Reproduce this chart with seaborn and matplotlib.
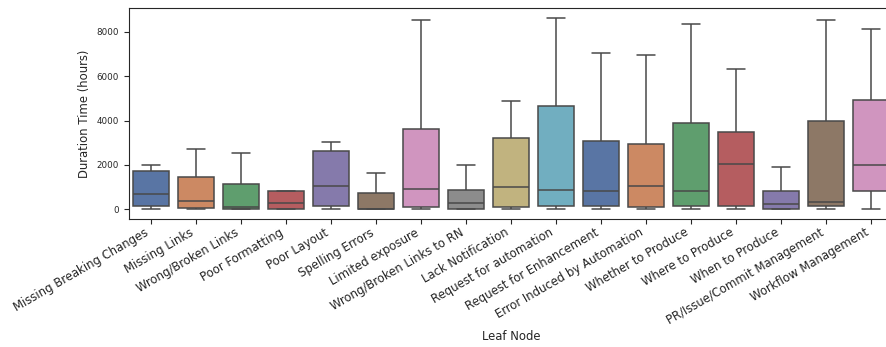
import matplotlib
matplotlib.use("Agg")
import matplotlib.pyplot as plt
import numpy as np
import pandas as pd
import seaborn as sns

# Leaf-node categories and the five-number summary of duration (hours) for each
leaf_nodes = [
    "Missing Breaking Changes", "Missing Links", "Wrong/Broken Links",
    "Poor Formatting", "Poor Layout", "Spelling Errors", "Limited exposure",
    "Wrong/Broken Links to RN", "Lack Notification", "Request for automation",
    "Request for Enhancement", "Error Induced by Automation",
    "Whether to Produce", "Where to Produce", "When to Produce",
    "PR/Issue/Commit Management", "Workflow Management",
]
whisker_low = [0, 0, 0, 0, 0, 0, 0, 0, 0, 0, 0, 0, 0, 0, 0, 0, 0]
q1 = [135, 77, 30, 30, 150, 10, 90, 30, 120, 135, 165, 90, 165, 165, 30, 150, 843]
median = [690, 375, 105, 300, 1050, 25, 900, 285, 1005, 857, 843, 1050, 826, 2030, 225, 330, 2015]
q3 = [1730, 1474, 1128, 842, 2632, 752, 3625, 872, 3204, 4632, 3068, 2948, 3910, 3504, 842, 3971, 4918]
whisker_high = [2015, 2722, 2557, 842, 3053, 1654, 8543, 2015, 4858, 8633, 7024, 6933, 8347, 6332, 1925, 8513, 8107]

# Long-form table: each category holds its summary points so the box statistics reproduce them
rows = []
for name, lo, a, m, b, hi in zip(leaf_nodes, whisker_low, q1, median, q3, whisker_high):
    for v in (lo, a, m, b, hi):
        rows.append({"Leaf Node": name, "Duration Time (hours)": v})
df = pd.DataFrame(rows)

sns.set_theme(style="ticks")
plt.rcParams["font.family"] = ["DejaVu Sans"]

fig = plt.figure(figsize=(8.87, 3.47), dpi=100)
ax = fig.add_axes([128.5 / 887, (347 - 219) / 347, 765 / 887, 211 / 347])

sns.boxplot(
    data=df, x="Leaf Node", y="Duration Time (hours)", hue="Leaf Node",
    order=leaf_nodes, hue_order=leaf_nodes, palette="deep", legend=False,
    showfliers=False, whis=1.5, ax=ax, linewidth=1.1,
)

ax.set_yticks([0, 2000, 4000, 6000, 8000])
ax.tick_params(axis="y", labelsize=6.3, length=3.5, width=0.8)
ax.tick_params(axis="x", labelsize=8.4, length=3.5, width=0.8, pad=1.5)
plt.setp(ax.get_xticklabels(), rotation=30, ha="right")
ax.set_xlabel("Leaf Node", fontsize=8.4, labelpad=2.5)
ax.set_ylabel("Duration Time (hours)", fontsize=8.4)
for s in ax.spines.values():
    s.set_linewidth(0.8)

fig.savefig("out.png", dpi=100)
